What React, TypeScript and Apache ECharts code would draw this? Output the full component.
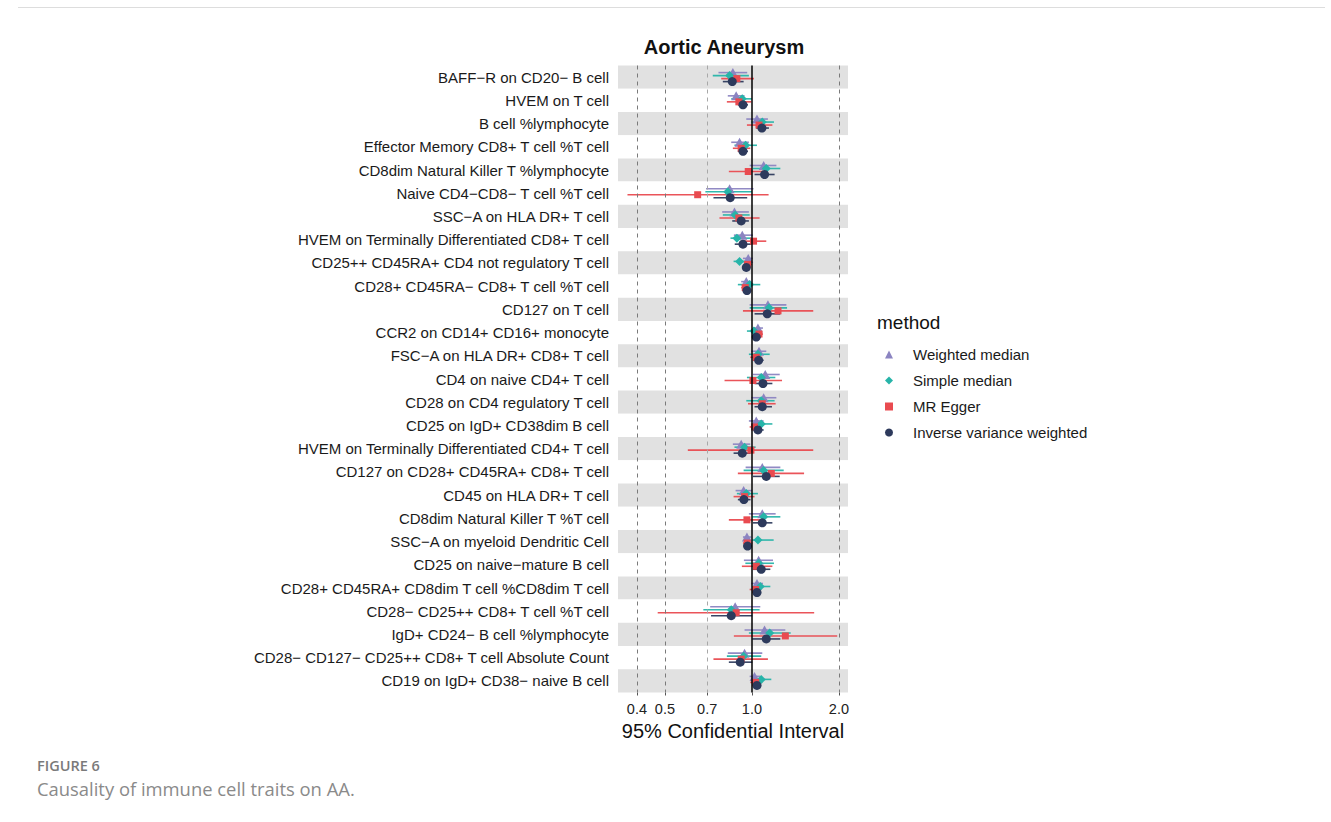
import React, { useEffect, useRef } from "react";
import * as echarts from "echarts";

const categories = [
  "BAFF−R on CD20− B cell",
  "HVEM on T cell",
  "B cell %lymphocyte",
  "Effector Memory CD8+ T cell %T cell",
  "CD8dim Natural Killer T %lymphocyte",
  "Naive CD4−CD8− T cell %T cell",
  "SSC−A on HLA DR+ T cell",
  "HVEM on Terminally Differentiated CD8+ T cell",
  "CD25++ CD45RA+ CD4 not regulatory T cell",
  "CD28+ CD45RA− CD8+ T cell %T cell",
  "CD127 on T cell",
  "CCR2 on CD14+ CD16+ monocyte",
  "FSC−A on HLA DR+ CD8+ T cell",
  "CD4 on naive CD4+ T cell",
  "CD28 on CD4 regulatory T cell",
  "CD25 on IgD+ CD38dim B cell",
  "HVEM on Terminally Differentiated CD4+ T cell",
  "CD127 on CD28+ CD45RA+ CD8+ T cell",
  "CD45 on HLA DR+ T cell",
  "CD8dim Natural Killer T %T cell",
  "SSC−A on myeloid Dendritic Cell",
  "CD25 on naive−mature B cell",
  "CD28+ CD45RA+ CD8dim T cell %CD8dim T cell",
  "CD28− CD25++ CD8+ T cell %T cell",
  "IgD+ CD24− B cell %lymphocyte",
  "CD28− CD127− CD25++ CD8+ T cell Absolute Count",
  "CD19 on IgD+ CD38− naive B cell",
];

const methods = ["Weighted median", "Simple median", "MR Egger", "Inverse variance weighted"];

// Weighted median
const wmEst = [0.859, 0.882, 1.041, 0.906, 1.098, 0.837, 0.870, 0.926, 0.971, 0.956, 1.136, 1.049, 1.058, 1.112, 1.098, 1.035, 0.918, 1.086, 0.936, 1.086, 0.961, 1.055, 1.041, 0.875, 1.106, 0.943, 1.021];
const wmLo = [0.766, 0.825, 0.956, 0.848, 0.982, 0.694, 0.789, 0.866, 0.931, 0.918, 0.982, 1.008, 0.995, 1.008, 0.995, 0.976, 0.859, 0.951, 0.878, 0.976, 0.931, 0.938, 0.995, 0.717, 0.943, 0.825, 0.982];
const wmHi = [0.963, 0.943, 1.136, 0.976, 1.215, 1.013, 0.976, 1.008, 1.008, 0.995, 1.316, 1.092, 1.121, 1.248, 1.215, 1.098, 0.987, 1.254, 1.0, 1.208, 0.995, 1.183, 1.092, 1.069, 1.305, 1.086, 1.069];

// Simple median
const smEst = [0.837, 0.926, 1.086, 0.951, 1.121, 0.825, 0.875, 0.887, 0.906, 0.982, 1.146, 1.016, 1.049, 1.077, 1.077, 1.077, 0.943, 1.098, 0.956, 1.098, 1.049, 1.055, 1.069, 0.848, 1.152, 0.936, 1.077];
const smLo = [0.732, 0.848, 0.995, 0.870, 1.008, 0.690, 0.793, 0.843, 0.864, 0.894, 0.982, 0.961, 0.976, 0.961, 0.956, 1.003, 0.870, 0.936, 0.887, 1.003, 1.003, 0.949, 1.008, 0.679, 0.976, 0.819, 1.003];
const smHi = [0.976, 1.0, 1.192, 1.041, 1.254, 1.0, 0.982, 0.995, 0.969, 1.069, 1.323, 1.063, 1.152, 1.205, 1.198, 1.177, 1.030, 1.288, 1.049, 1.254, 1.189, 1.192, 1.158, 1.063, 1.362, 1.077, 1.167];

// MR Egger
const egEst = [0.887, 0.901, 1.058, 0.918, 0.971, 0.649, 0.901, 1.013, 0.966, 0.948, 1.231, 1.058, 1.035, 1.008, 1.086, 1.021, 0.992, 1.167, 0.943, 0.961, 0.963, 1.035, 1.030, 0.882, 1.305, 0.918, 1.030];
const egLo = [0.783, 0.819, 0.961, 0.859, 0.832, 0.371, 0.772, 0.936, 0.938, 0.918, 0.931, 1.021, 0.987, 0.804, 0.969, 0.982, 0.600, 0.894, 0.864, 0.832, 0.931, 0.923, 0.982, 0.472, 0.866, 0.736, 0.987];
const egHi = [1.016, 0.995, 1.177, 0.987, 1.121, 1.142, 1.063, 1.121, 1.0, 0.987, 1.630, 1.092, 1.086, 1.271, 1.208, 1.063, 1.630, 1.515, 1.021, 1.086, 1.003, 1.177, 1.077, 1.642, 1.973, 1.136, 1.086];

// Inverse variance weighted
const ivwEst = [0.855, 0.931, 1.083, 0.931, 1.106, 0.841, 0.918, 0.931, 0.956, 0.961, 1.130, 1.035, 1.055, 1.092, 1.086, 1.049, 0.926, 1.121, 0.938, 1.086, 0.966, 1.077, 1.041, 0.848, 1.121, 0.911, 1.041];
const ivwLo = [0.793, 0.894, 1.035, 0.894, 1.021, 0.736, 0.855, 0.872, 0.926, 0.936, 1.021, 1.0, 1.008, 1.021, 1.021, 1.008, 0.864, 1.008, 0.894, 1.008, 0.936, 1.008, 1.008, 0.722, 1.003, 0.832, 1.008];
const ivwHi = [0.936, 0.969, 1.145, 0.969, 1.198, 0.963, 0.976, 0.995, 0.987, 0.989, 1.254, 1.075, 1.098, 1.177, 1.173, 1.098, 0.989, 1.248, 0.989, 1.177, 0.995, 1.158, 1.077, 1.003, 1.254, 1.003, 1.077];

const tickValues = [0.4, 0.5, 0.7, 1.0, 2.0];
const dashedRefs = [0.4, 0.5, 0.7, 2.0];
const nullRef = 1.0;

const FONT = "Liberation Sans, Arial, Helvetica, sans-serif";

const methodStyles = [
  { color: "#8B84C1", symbol: "triangle", size: [10, 9], off: -4.5, legendIcon: "triangle" },
  { color: "#27B4A9", symbol: "diamond", size: [9, 9], off: -1.5, legendIcon: "diamond" },
  { color: "#E94B50", symbol: "rect", size: [7, 7], off: 1.5, legendIcon: "rect" },
  { color: "#2D3A5C", symbol: "circle", size: [9, 9], off: 4.5, legendIcon: "circle" },
];

const seriesData = [
  { est: wmEst, lo: wmLo, hi: wmHi },
  { est: smEst, lo: smLo, hi: smHi },
  { est: egEst, lo: egLo, hi: egHi },
  { est: ivwEst, lo: ivwLo, hi: ivwHi },
];

export default function App() {
  const ref = useRef<HTMLDivElement>(null);
  useEffect(() => {
    if (!ref.current) return;
    const chart = echarts.init(ref.current, undefined, { renderer: "svg" });

    const ciSeries = methods.map((m, k) => {
      const st = methodStyles[k];
      const d = seriesData[k];
      return {
        type: "custom",
        name: m + " CI",
        z: 2,
        data: categories.map((_, i) => [d.lo[i], d.hi[i], i]),
        encode: { x: [0, 1], y: 2 },
        renderItem: (params: any, api: any) => {
          const p1 = api.coord([api.value(0), api.value(2)]);
          const p2 = api.coord([api.value(1), api.value(2)]);
          return {
            type: "line",
            shape: { x1: p1[0], y1: p1[1] + st.off, x2: p2[0], y2: p2[1] + st.off },
            style: { stroke: st.color, lineWidth: 1.6, opacity: 0.95 },
          };
        },
      };
    });

    const pointSeries = methods.map((m, k) => {
      const st = methodStyles[k];
      const d = seriesData[k];
      return {
        type: "scatter",
        name: m,
        z: 3,
        symbol: st.symbol,
        symbolSize: st.size,
        symbolOffset: [0, st.off],
        itemStyle: { color: st.color, opacity: 1 },
        data: categories.map((_, i) => [d.est[i], i]),
      };
    });

    const refSeries = {
      type: "scatter",
      name: "refs",
      data: [],
      z: 1,
      markLine: {
        silent: true,
        symbol: ["none", "none"],
        label: { show: false },
        data: [
          ...dashedRefs.map((v) => ({
            xAxis: v,
            lineStyle: { color: v === 0.7 ? "#A8A8A8" : "#7A7A7A", type: [4, 4], width: 1 },
          })),
          { xAxis: nullRef, lineStyle: { color: "#000000", type: "solid", width: 1.5 } },
        ],
      },
    };

    chart.setOption({
      animation: false,
      grid: { left: 618, right: 483, top: 65.5, bottom: 129.5, containLabel: false },
      xAxis: {
        type: "log",
        logBase: 10,
        min: 0.344,
        max: 2.15,
        axisLine: { show: false },
        splitLine: { show: false },
        axisTick: {
          show: true,
          customValues: tickValues,
          length: 3,
          lineStyle: { color: "#555" },
        },
        axisLabel: {
          customValues: tickValues,
          formatter: (v: number) => Number(v).toFixed(1),
          fontSize: 14.5,
          color: "#222",
          fontFamily: FONT,
          margin: 9,
        },
        name: "95% Confidential Interval",
        nameLocation: "middle",
        nameGap: 26,
        nameTextStyle: { fontSize: 20, color: "#111", fontFamily: FONT },
      },
      yAxis: {
        type: "category",
        data: categories,
        inverse: true,
        axisLine: { show: false },
        axisTick: { show: false },
        axisLabel: { interval: 0, fontSize: 15, color: "#1a1a1a", fontFamily: FONT, margin: 9 },
        splitArea: { show: true, interval: 0, areaStyle: { color: ["#E1E1E1", "#FFFFFF"] } },
        splitLine: { show: false },
      },
      legend: {
        data: methods.map((m, k) => ({ name: m, icon: methodStyles[k].legendIcon })),
        orient: "vertical",
        left: 880,
        top: 341,
        itemWidth: 8,
        itemHeight: 8,
        itemGap: 9,
        selectedMode: false,
        textStyle: { fontSize: 15, color: "#1a1a1a", fontFamily: FONT, padding: [0, 0, 0, 15], lineHeight: 17 },
      },
      graphic: [
        {
          type: "text",
          x: 724,
          y: 47,
          style: {
            text: "Aortic Aneurysm",
            font: `bold 20px ${FONT}`,
            fill: "#111",
            textAlign: "center",
            textVerticalAlign: "middle",
          },
        },
        {
          type: "text",
          x: 877,
          y: 322,
          style: {
            text: "method",
            font: `19px ${FONT}`,
            fill: "#111",
            textAlign: "left",
            textVerticalAlign: "middle",
          },
        },
        {
          type: "text",
          x: 37,
          y: 765,
          style: {
            text: "FIGURE 6",
            font: `600 14.5px "Open Sans", sans-serif`,
            fill: "#7a7a7a",
            textAlign: "left",
            textVerticalAlign: "middle",
          },
        },
        {
          type: "text",
          x: 37,
          y: 788,
          style: {
            text: "Causality of immune cell traits on AA.",
            font: `18.4px "Open Sans", sans-serif`,
            fill: "#8a8a8a",
            textAlign: "left",
            textVerticalAlign: "middle",
          },
        },
        {
          type: "line",
          shape: { x1: 18, y1: 7.5, x2: 1325, y2: 7.5 },
          style: { stroke: "#dddddd", lineWidth: 1 },
        },
      ],
      series: [refSeries, ...ciSeries, ...pointSeries],
    });
    return () => chart.dispose();
  }, []);

  return (
    <div
      ref={ref}
      style={{ position: "absolute", left: 0, top: 0, width: 1331, height: 822, background: "#fff" }}
    />
  );
}
